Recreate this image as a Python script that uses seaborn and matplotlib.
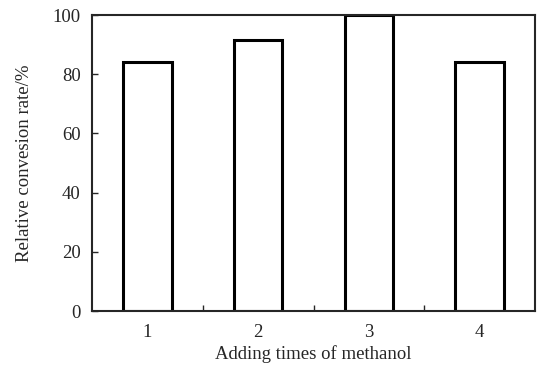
import numpy as np
import pandas as pd
import seaborn as sns
from matplotlib import pyplot as plt

times = ['1', '2', '3', '4']
rate = [84, 91.5, 100, 84]

sns.set_style('ticks')
plt.rcParams['font.family'] = ['Liberation Serif', 'DejaVu Serif']
df = pd.DataFrame({'times': times, 'rate': rate})

fig = plt.figure(figsize=(5.41, 3.66), dpi=100)
ax = fig.add_axes([0.170, 0.150, 0.819, 0.809])
sns.barplot(data=df, x='times', y='rate', color='white', edgecolor='black',
            linewidth=2.2, width=0.44, saturation=1, ax=ax)
ax.set_xlim(-0.5, 3.5)
ax.set_ylim(0, 100)
ax.set_yticks([0, 20, 40, 60, 80, 100])
ax.set_xticks([0.5, 1.5, 2.5], minor=True)
ax.tick_params(axis='x', which='major', length=0, labelsize=13.5, pad=9)
ax.tick_params(axis='x', which='minor', direction='in', length=4, width=1)
ax.tick_params(axis='y', direction='in', length=4, width=1, labelsize=13.5, pad=8)
for s in ax.spines.values():
    s.set_linewidth(1.5)
    s.set_visible(True)
ax.set_xlabel('Adding times of methanol', fontsize=13.5, labelpad=3)
ax.set_ylabel('Relative convesion rate/%', fontsize=13.5, labelpad=14)
plt.savefig('out.png', dpi=100)
